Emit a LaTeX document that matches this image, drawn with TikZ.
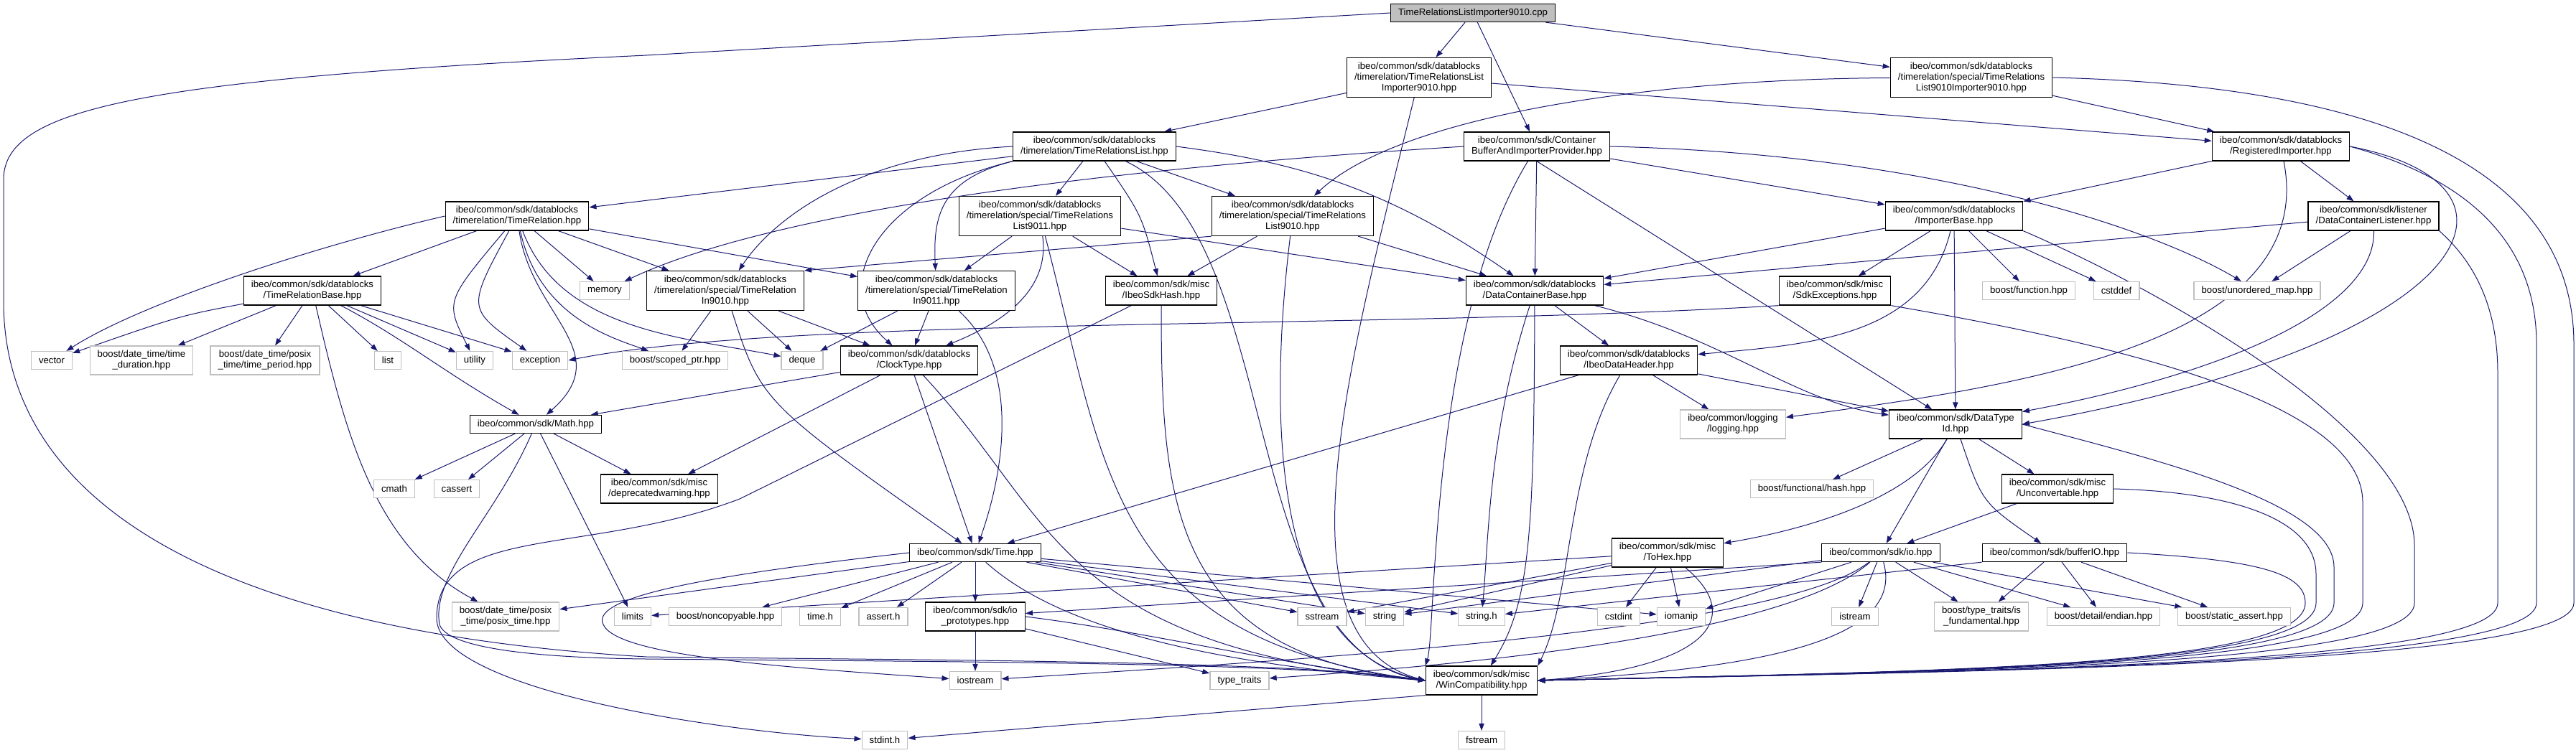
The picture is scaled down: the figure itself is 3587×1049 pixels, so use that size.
\documentclass[tikz,border=0pt]{standalone}
\usepackage{fontspec}
\setmainfont{Liberation Sans}
\usetikzlibrary{arrows.meta,backgrounds}

\definecolor{depblue}{RGB}{25,25,112}
\definecolor{sysgray}{RGB}{191,191,191}

\begin{document}
\begin{tikzpicture}[
  x=0.5pt, y=-0.5pt,
  every node/.style={font=\fontsize{6.6pt}{7.5pt}\selectfont, inner xsep=5.3pt,
    inner ysep=3.2pt, minimum height=12.5pt, align=center},
  file/.style={draw=black, line width=0.6pt, fill=white},
  sysfile/.style={draw=sysgray, line width=0.6pt, fill=white},
  rootfile/.style={draw=black, line width=0.6pt, fill=sysgray},
  dep/.style={draw=depblue, line width=0.5pt, -{Triangle[length=5pt,width=3.6pt]}}
]
\useasboundingbox (0,0) rectangle (3587,1049);

\node[rootfile] (cpp) at (2051,18) {TimeRelationsListImporter9010.cpp};

\node[file] (trlimp) at (1976,108) {ibeo/common/sdk/datablocks\\/timerelation/TimeRelationsList\\Importer9010.hpp};
\node[file] (trl9010imp) at (2745,108) {ibeo/common/sdk/datablocks\\/timerelation/special/TimeRelations\\List9010Importer9010.hpp};

\node[file] (trl) at (1524,204) {ibeo/common/sdk/datablocks\\/timerelation/TimeRelationsList.hpp};
\node[file] (cbaip) at (2140,204) {ibeo/common/sdk/Container\\BufferAndImporterProvider.hpp};
\node[file] (regimp) at (3176,204) {ibeo/common/sdk/datablocks\\/RegisteredImporter.hpp};

\node[file] (tr) at (720,301) {ibeo/common/sdk/datablocks\\/timerelation/TimeRelation.hpp};
\node[file] (trl9011) at (1448,301) {ibeo/common/sdk/datablocks\\/timerelation/special/TimeRelations\\List9011.hpp};
\node[file] (trl9010) at (1800,301) {ibeo/common/sdk/datablocks\\/timerelation/special/TimeRelations\\List9010.hpp};
\node[file] (impbase) at (2721,301) {ibeo/common/sdk/datablocks\\/ImporterBase.hpp};
\node[file] (dclist) at (3305,301) {ibeo/common/sdk/listener\\/DataContainerListener.hpp};

\node[file] (trbase) at (435,405) {ibeo/common/sdk/datablocks\\/TimeRelationBase.hpp};
\node[sysfile] (memory) at (842,405) {memory};
\node[file] (trin9010) at (1010,405) {ibeo/common/sdk/datablocks\\/timerelation/special/TimeRelation\\In9010.hpp};
\node[file] (trin9011) at (1304,405) {ibeo/common/sdk/datablocks\\/timerelation/special/TimeRelation\\In9011.hpp};
\node[file] (sdkhash) at (1617,405) {ibeo/common/sdk/misc\\/IbeoSdkHash.hpp};
\node[file] (dcbase) at (2137,405) {ibeo/common/sdk/datablocks\\/DataContainerBase.hpp};
\node[file] (sdkexc) at (2555,405) {ibeo/common/sdk/misc\\/SdkExceptions.hpp};
\node[sysfile] (bfunction) at (2825,405) {boost/function.hpp};
\node[sysfile] (cstddef) at (2947,405) {cstddef};
\node[sysfile] (bumap) at (3143,405) {boost/unordered\_map.hpp};

\node[sysfile] (vector) at (72,502) {vector};
\node[sysfile] (tduration) at (197,502) {boost/date\_time/time\\\_duration.hpp};
\node[sysfile] (tperiod) at (369,502) {boost/date\_time/posix\\\_time/time\_period.hpp};
\node[sysfile] (list) at (540,502) {list};
\node[sysfile] (utility) at (661,502) {utility};
\node[sysfile] (exception) at (752,502) {exception};
\node[sysfile] (scopedptr) at (940,502) {boost/scoped\_ptr.hpp};
\node[sysfile] (deque) at (1117,502) {deque};
\node[file] (clocktype) at (1266,502) {ibeo/common/sdk/datablocks\\/ClockType.hpp};
\node[file] (datahdr) at (2268,502) {ibeo/common/sdk/datablocks\\/IbeoDataHeader.hpp};

\node[file] (mathh) at (746,591) {ibeo/common/sdk/Math.hpp};
\node[sysfile] (logging) at (2413,591) {ibeo/common/logging\\/logging.hpp};
\node[file] (typeid) at (2723,591) {ibeo/common/sdk/DataType\\Id.hpp};

\node[sysfile] (cmath) at (549,681) {cmath};
\node[sysfile] (cassert) at (636,681) {cassert};
\node[file] (deprec) at (918,681) {ibeo/common/sdk/misc\\/deprecatedwarning.hpp};
\node[sysfile] (bfhash) at (2523,681) {boost/functional/hash.hpp};
\node[file] (unconv) at (2865,681) {ibeo/common/sdk/misc\\/Unconvertable.hpp};

\node[file] (timeh) at (1358,770) {ibeo/common/sdk/Time.hpp};
\node[file] (tohex) at (2322,770) {ibeo/common/sdk/misc\\/ToHex.hpp};
\node[file] (io) at (2619,770) {ibeo/common/sdk/io.hpp};
\node[file] (bufio) at (2861,770) {ibeo/common/sdk/bufferIO.hpp};

\node[sysfile] (posixtime) at (704,859) {boost/date\_time/posix\\\_time/posix\_time.hpp};
\node[sysfile] (limits) at (881,859) {limits};
\node[sysfile] (noncopy) at (1010,859) {boost/noncopyable.hpp};
\node[sysfile] (timec) at (1142,859) {time.h};
\node[sysfile] (asserth) at (1230,859) {assert.h};
\node[file] (ioproto) at (1358,859) {ibeo/common/sdk/io\\\_prototypes.hpp};
\node[sysfile] (sstream) at (1841,859) {sstream};
\node[sysfile] (string) at (1928,859) {string};
\node[sysfile] (stringh) at (2063,859) {string.h};
\node[sysfile] (cstdint) at (2254,859) {cstdint};
\node[sysfile] (iomanip) at (2341,859) {iomanip};
\node[sysfile] (istream) at (2583,859) {istream};
\node[sysfile] (isfund) at (2759,859) {boost/type\_traits/is\\\_fundamental.hpp};
\node[sysfile] (endian) at (2929,859) {boost/detail/endian.hpp};
\node[sysfile] (sassert) at (3111,859) {boost/static\_assert.hpp};

\node[sysfile] (iostream) at (1358,948) {iostream};
\node[sysfile] (typetraits) at (1726,948) {type\_traits};
\node[file] (wincompat) at (2063,948) {ibeo/common/sdk/misc\\/WinCompatibility.hpp};

\node[sysfile] (stdint) at (1232,1031) {stdint.h};
\node[sysfile] (fstream) at (2063,1031) {fstream};

\begin{pgfonlayer}{background}
\draw[dep] (cpp) -- (trlimp);
\draw[dep] (cpp) -- (cbaip);
\draw[dep] (cpp) -- (trl9010imp);
\draw[dep] (cpp.west) -- (900,77) .. controls (200,110) and (5,150) .. (5,250) -- (5,420)
  .. controls (5,700) and (300,880) .. (900,915) .. controls (1300,920) and (1800,920) .. (wincompat.west);

\draw[dep] (trlimp) -- (trl);
\draw[dep] (trlimp) -- (regimp);
\draw[dep] (trlimp) .. controls (1880,500) and (1770,890) .. (wincompat.west);

\draw[dep] (trl9010imp) .. controls (2300,110) and (1950,160) .. (trl9010);
\draw[dep] (trl9010imp) -- (regimp);
\draw[dep] (trl9010imp.east) .. controls (3350,120) and (3584,250) .. (3584,480) -- (3584,840)
  .. controls (3584,930) and (2700,935) .. (wincompat.east);

\draw[dep] (trl) -- (tr);
\draw[dep] (trl) -- (trl9011);
\draw[dep] (trl) -- (trl9010);
\draw[dep] (trl.west) .. controls (1200,215) and (1080,300) .. (trin9010);
\draw[dep] (trl.south west) .. controls (1310,250) and (1299,300) .. (trin9011);
\draw[dep] (trl.south west) .. controls (1220,270) and (1150,400) .. (clocktype);
\draw[dep] (trl) .. controls (1590,300) .. (sdkhash);
\draw[dep] (trl.east) .. controls (1800,225) and (1930,260) .. (dcbase);
\draw[dep] (trl) .. controls (1790,330) and (1720,900) .. (wincompat.west);

\draw[dep] (cbaip.west) .. controls (1300,250) and (1000,330) .. (memory);
\draw[dep] (cbaip.east) .. controls (2700,215) and (3000,320) .. (bumap);
\draw[dep] (cbaip) -- (impbase);
\draw[dep] (cbaip) -- (dcbase);
\draw[dep] (cbaip.south) -- (typeid);
\draw[dep] (cbaip) .. controls (1990,450) and (2000,880) .. (wincompat.north west);

\draw[dep] (regimp) -- (impbase);
\draw[dep] (regimp) -- (dclist);
\draw[dep] (regimp) .. controls (3230,480) and (2800,540) .. (logging);
\draw[dep] (regimp.east) .. controls (3560,260) and (3440,480) .. (typeid.east);
\draw[dep] (regimp.east) .. controls (3440,250) and (3532,340) .. (3532,480) -- (3532,840)
  .. controls (3532,930) and (2700,935) .. (wincompat.east);

\draw[dep] (tr) -- (trbase);
\draw[dep] (tr.west) .. controls (450,340) and (200,420) .. (vector);
\draw[dep] (tr) .. controls (620,420) .. (utility);
\draw[dep] (tr) .. controls (650,430) .. (exception);
\draw[dep] (tr) -- (memory);
\draw[dep] (tr) .. controls (740,440) and (860,490) .. (mathh);
\draw[dep] (tr) .. controls (750,440) and (850,470) .. (scopedptr);
\draw[dep] (tr) .. controls (780,460) and (950,470) .. (deque);
\draw[dep] (tr) -- (trin9010);
\draw[dep] (tr) -- (trin9011);

\draw[dep] (trl9011) -- (trin9011);
\draw[dep] (trl9011) .. controls (1460,390) and (1420,440) .. (clocktype);
\draw[dep] (trl9011) -- (sdkhash);
\draw[dep] (trl9011) -- (dcbase);
\draw[dep] (trl9011) .. controls (1540,650) and (1540,890) .. (wincompat.west);

\draw[dep] (trl9010.south west) -- (trin9010.north east);
\draw[dep] (trl9010) -- (sdkhash);
\draw[dep] (trl9010) -- (dcbase);
\draw[dep] (trl9010) .. controls (1770,550) and (1760,900) .. (wincompat.west);

\draw[dep] (impbase) -- (dcbase);
\draw[dep] (impbase) .. controls (2680,470) and (2520,480) .. (datahdr);
\draw[dep] (impbase) -- (sdkexc);
\draw[dep] (impbase) -- (bfunction);
\draw[dep] (impbase) -- (cstddef);
\draw[dep] (impbase) -- (typeid);
\draw[dep] (impbase.south east) .. controls (3000,400) and (3362,600) .. (3362,760) -- (3362,840)
  .. controls (3362,930) and (2700,935) .. (wincompat.east);

\draw[dep] (dclist) -- (dcbase);
\draw[dep] (dclist) -- (bumap);
\draw[dep] (dclist) .. controls (3308,430) and (3100,520) .. (typeid);
\draw[dep] (dclist.south east) .. controls (3440,360) and (3478,420) .. (3478,520) -- (3478,840)
  .. controls (3478,930) and (2700,935) .. (wincompat.east);

\draw[dep] (trbase) .. controls (250,440) .. (vector);
\draw[dep] (trbase) -- (tduration);
\draw[dep] (trbase) -- (tperiod);
\draw[dep] (trbase) -- (list);
\draw[dep] (trbase) -- (utility);
\draw[dep] (trbase) -- (exception);
\draw[dep] (trbase) .. controls (560,470) and (620,520) .. (mathh);
\draw[dep] (trbase) .. controls (480,600) and (520,760) .. (posixtime);

\draw[dep] (trin9010) -- (scopedptr);
\draw[dep] (trin9010) -- (deque);
\draw[dep] (trin9010) -- (clocktype);
\draw[dep] (trin9010) .. controls (1060,560) .. (timeh);

\draw[dep] (trin9011) -- (deque);
\draw[dep] (trin9011) -- (clocktype);
\draw[dep] (trin9011) .. controls (1420,510) and (1400,650) .. (timeh);

\draw[dep] (sdkhash) .. controls (1617,700) and (1630,910) .. (wincompat.west);
\draw[dep] (sdkhash) -- (1030,695) .. controls (820,775) and (610,730) .. (608,860)
  .. controls (606,960) and (1000,1020) .. (stdint);

\draw[dep] (dcbase) -- (datahdr);
\draw[dep] (dcbase) .. controls (2400,470) and (2500,560) .. (typeid);
\draw[dep] (dcbase) .. controls (2073,600) and (2073,750) .. (stringh);
\draw[dep] (dcbase) .. controls (2136,750) and (2130,840) .. (wincompat);

\draw[dep] (sdkexc.south west) .. controls (1900,460) and (1100,440) .. (exception.east);
\draw[dep] (sdkexc.south east) .. controls (2950,480) and (3290,560) .. (3290,700) -- (3290,840)
  .. controls (3290,930) and (2700,935) .. (wincompat.east);

\draw[dep] (datahdr) -- (logging);
\draw[dep] (datahdr) -- (typeid);
\draw[dep] (datahdr) -- (timeh);
\draw[dep] (datahdr) .. controls (2180,650) and (2190,830) .. (wincompat.north east);

\draw[dep] (typeid) -- (bfhash);
\draw[dep] (typeid) -- (unconv);
\draw[dep] (typeid) .. controls (2660,700) and (2500,740) .. (tohex);
\draw[dep] (typeid) -- (io);
\draw[dep] (typeid) .. controls (2760,700) .. (bufio);
\draw[dep] (typeid.east) .. controls (3000,640) and (3250,700) .. (3250,790) -- (3250,840)
  .. controls (3250,930) and (2700,935) .. (wincompat.east);

\draw[dep] (unconv) -- (io);
\draw[dep] (unconv.east) .. controls (3100,685) and (3225,720) .. (3225,800) -- (3225,840)
  .. controls (3225,930) and (2700,935) .. (wincompat.east);

\draw[dep] (mathh) -- (cmath);
\draw[dep] (mathh) -- (cassert);
\draw[dep] (mathh) -- (deprec);
\draw[dep] (mathh) -- (limits);
\draw[dep] (mathh) .. controls (690,720) and (600,800) .. (612,870) .. controls (625,910) and (800,917) .. (900,918)
  .. controls (1300,922) and (1800,922) .. (wincompat.west);

\draw[dep] (clocktype) -- (mathh);
\draw[dep] (clocktype) -- (deprec);
\draw[dep] (clocktype) -- (timeh);
\draw[dep] (clocktype) .. controls (1470,720) and (1470,900) .. (wincompat.west);

\draw[dep] (timeh) -- (posixtime);
\draw[dep] (timeh.west) .. controls (1000,800) and (820,830) .. (840,870) .. controls (860,915) and (1100,930) .. (iostream);
\draw[dep] (timeh) -- (noncopy);
\draw[dep] (timeh) -- (timec);
\draw[dep] (timeh) -- (asserth);
\draw[dep] (timeh) -- (ioproto);
\draw[dep] (timeh) -- (sstream);
\draw[dep] (timeh) -- (string);
\draw[dep] (timeh) -- (stringh);
\draw[dep] (timeh) -- (iomanip);
\draw[dep] (timeh) .. controls (1480,880) and (1700,925) .. (wincompat.west);

\draw[dep] (ioproto) -- (iostream);
\draw[dep] (ioproto) -- (typetraits);
\draw[dep] (ioproto.east) .. controls (1600,880) and (1800,930) .. (wincompat.west);

\draw[dep] (tohex) -- (limits);
\draw[dep] (tohex) -- (sstream);
\draw[dep] (tohex) -- (string);
\draw[dep] (tohex) -- (cstdint);
\draw[dep] (tohex) -- (iomanip);
\draw[dep] (tohex) .. controls (2430,860) and (2380,930) .. (wincompat.east);

\draw[dep] (io.south west) -- (ioproto);
\draw[dep] (io) -- (string);
\draw[dep] (io) -- (iomanip);
\draw[dep] (io) -- (istream);
\draw[dep] (io) .. controls (2480,880) and (1800,920) .. (iostream);
\draw[dep] (io) .. controls (2470,900) and (1900,935) .. (typetraits);
\draw[dep] (io) -- (isfund);
\draw[dep] (io) -- (endian);
\draw[dep] (io) -- (sassert);
\draw[dep] (io) .. controls (2650,880) and (2500,930) .. (wincompat.east);

\draw[dep] (bufio) -- (isfund);
\draw[dep] (bufio) -- (endian);
\draw[dep] (bufio) -- (sassert);
\draw[dep] (bufio.south west) -- (stringh);
\draw[dep] (bufio.east) .. controls (3150,780) and (3210,800) .. (3210,840)
  .. controls (3210,930) and (2700,935) .. (wincompat.east);

\draw[dep] (wincompat) -- (fstream);
\draw[dep] (wincompat.south west) -- (stdint);
\end{pgfonlayer}
\end{tikzpicture}
\end{document}
